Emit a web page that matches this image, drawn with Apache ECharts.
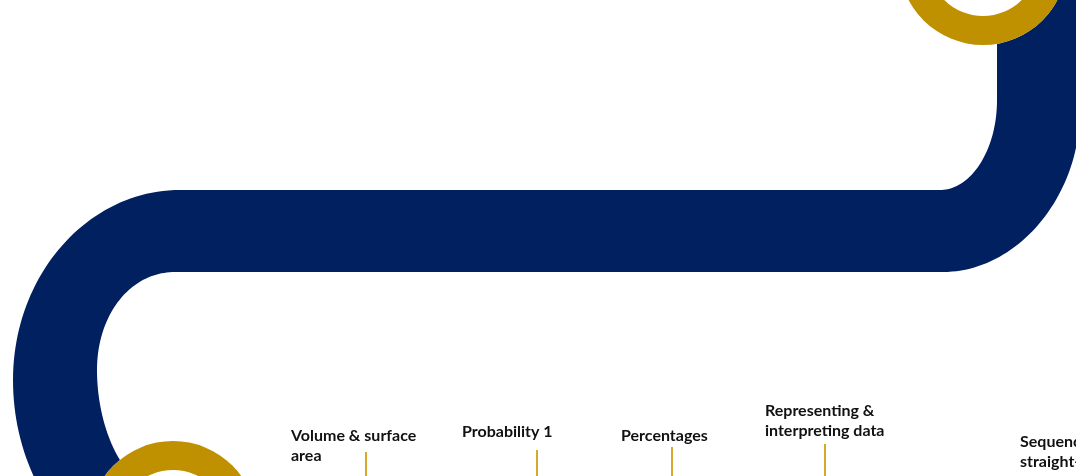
<!DOCTYPE html>
<html><head><meta charset="utf-8">
<script src="https://cdn.jsdelivr.net/npm/echarts@6/dist/echarts.min.js"></script>
<style>html,body{margin:0;padding:0;background:#fff}#c{width:1076px;height:476px}</style>
</head><body><div id="c"></div>
<script>
// ---- data ----
const topics = ['Volume & surface\narea', 'Probability 1', 'Percentages', 'Representing &\ninterpreting data', 'Sequences &\nstraight-line graphs'];
const labelX = [291, 462, 621, 765, 1020];
const labelY = [436, 432, 436, 411, 442];   // centre of first text line
const tickX = [366, 537, 672, 825];
const tickTop = [452, 450, 447, 444];
const milestoneX = [983, 173];
const milestoneY = [-39, 525];
// road outline (M/L/C commands, in chart units)
const roadPath = [
  ['M', 997, -60], ['L', 997, 100], ['C', 997, 150, 971, 190, 940, 190], ['L', 180, 190],
  ['C', 88, 190, 13, 275, 13, 380], ['C', 13, 490, 88, 580, 180, 580], ['L', 1200, 580],
  ['L', 1200, 498], ['L', 180, 498], ['C', 125, 498, 97, 430, 97, 370],
  ['C', 97, 315, 130, 272, 175, 272], ['L', 943, 272],
  ['C', 1016, 272, 1080, 198, 1080, 110], ['L', 1080, -60]
];

const NAVY = '#002060', GOLD = '#BF9000', TICK = '#D9A82B';
const ringOuter = 84, ringInner = 55;
const FONT = 'bold 16px Lato';
const LH = 20;

function renderRoad(params, api) {
  const pts = [];
  let cur = null;
  roadPath.forEach(seg => {
    if (seg[0] === 'M' || seg[0] === 'L') {
      cur = [seg[1], seg[2]];
      pts.push(api.coord(cur));
    } else {
      const p0 = cur, p1 = [seg[1], seg[2]], p2 = [seg[3], seg[4]], p3 = [seg[5], seg[6]];
      for (let i = 1; i <= 48; i++) {
        const t = i / 48, u = 1 - t;
        const x = u*u*u*p0[0] + 3*u*u*t*p1[0] + 3*u*t*t*p2[0] + t*t*t*p3[0];
        const y = u*u*u*p0[1] + 3*u*u*t*p1[1] + 3*u*t*t*p2[1] + t*t*t*p3[1];
        pts.push(api.coord([x, y]));
      }
      cur = p3;
    }
  });
  return { type: 'polygon', shape: { points: pts }, style: { fill: NAVY } };
}

function renderRing(params, api) {
  const c = api.coord([api.value(0), api.value(1)]);
  const R = api.size([ringOuter, 0])[0];
  const r = api.size([ringInner, 0])[0];
  return {
    type: 'group',
    children: [
      { type: 'circle', shape: { cx: c[0], cy: c[1], r: R }, style: { fill: '#fff' } },
      { type: 'ring', shape: { cx: c[0], cy: c[1], r: R, r0: r }, style: { fill: GOLD } }
    ]
  };
}

function renderTick(params, api) {
  const a = api.coord([api.value(0), api.value(1)]);
  const b = api.coord([api.value(0), 490]);
  return { type: 'line', shape: { x1: a[0], y1: a[1], x2: b[0], y2: b[1] }, style: { stroke: TICK, lineWidth: 2 } };
}

function renderLabel(params, api) {
  const i = params.dataIndex;
  const p = api.coord([api.value(0), api.value(1)]);
  return {
    type: 'text', x: p[0], y: p[1] - LH / 2,
    style: { text: topics[i], font: FONT, fill: '#111', align: 'left', verticalAlign: 'top', lineHeight: LH }
  };
}

const chart = echarts.init(document.getElementById('c'), null, { renderer: 'canvas' });
chart.setOption({
  animation: false,
  backgroundColor: '#fff',
  grid: { left: 0, right: 0, top: 0, bottom: 0 },
  xAxis: { type: 'value', min: 0, max: 1076, show: false },
  yAxis: { type: 'value', min: 0, max: 476, inverse: true, show: false },
  series: [
    { type: 'custom', clip: false, silent: true, data: [[0, 0]], renderItem: renderRoad, z: 1 },
    { type: 'custom', clip: false, silent: true, data: milestoneX.map((x, i) => [x, milestoneY[i]]), renderItem: renderRing, z: 2 },
    { type: 'custom', clip: false, silent: true, data: tickX.map((x, i) => [x, tickTop[i]]), renderItem: renderTick, z: 3 },
    { type: 'custom', clip: false, silent: true, data: labelX.map((x, i) => [x, labelY[i]]), renderItem: renderLabel, z: 4 }
  ]
});
</script></body></html>
